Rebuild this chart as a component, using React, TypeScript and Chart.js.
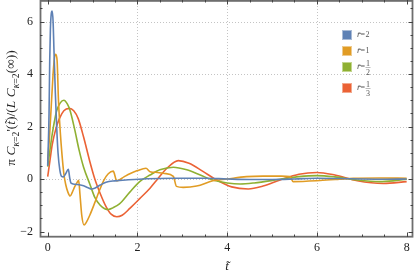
import React, { useEffect, useRef } from 'react';
import { Chart, registerables } from 'chart.js';
Chart.register(...registerables);

// ---- data ----
const xTicks = [0, 2, 4, 6, 8];
const yTicks = [-2, 0, 2, 4, 6];
const xGrid = [2, 4, 6];
const yGrid = [0, 2, 4, 6];
const seriesNames = ['2', '1', '1/2', '1/3'];
const seriesColors = ['#5E81B5', '#E19C24', '#8FB032', '#EB6235'];
const legendBorders = ['#a9bbd6', '#eecb8f', '#c3d68e', '#f3a98e'];

const tBlue = [0, 0.03, 0.045, 0.06, 0.08, 0.1, 0.12, 0.14, 0.17, 0.2, 0.23, 0.27, 0.31, 0.35, 0.4, 0.46, 0.49, 0.52, 0.6, 0.7, 0.8, 0.9, 0.98, 1.06, 1.17, 1.3, 1.5, 1.8, 2.2, 2.8, 3.5, 4, 4.5, 5, 5.5, 6, 6.5, 7, 7.5, 8];
const yBlue = [0.5, 2.5, 4.5, 5.7, 6.3, 6.4, 6.0, 4.9, 3.3, 2.0, 1.0, 0.35, 0.1, 0.08, 0.2, 0.37, 0.05, -0.16, -0.2, -0.22, -0.26, -0.33, -0.38, -0.34, -0.23, -0.12, -0.07, -0.03, 0.01, 0.03, 0.03, 0.0, -0.02, -0.02, 0.0, 0.03, 0.02, 0.0, -0.01, 0.0];

const tOrange = [0, 0.04, 0.08, 0.12, 0.15, 0.18, 0.21, 0.24, 0.28, 0.32, 0.36, 0.4, 0.45, 0.5, 0.55, 0.6, 0.66, 0.69, 0.72, 0.76, 0.81, 0.86, 0.94, 1.05, 1.15, 1.25, 1.35, 1.46, 1.54, 1.7, 1.83, 2.0, 2.19, 2.28, 2.45, 2.6, 2.8, 2.87, 3.02, 3.32, 3.68, 4.0, 4.43, 4.8, 5.2, 5.4, 5.47, 6.07, 6.5, 6.81, 7.4, 8];
const yOrange = [0.7, 1.6, 2.8, 4.0, 4.6, 4.75, 4.5, 3.0, 1.8, 0.9, 0.2, -0.2, -0.5, -0.65, -0.5, -0.3, -0.12, -0.05, -0.6, -1.4, -1.75, -1.65, -1.37, -0.9, -0.45, -0.05, 0.2, 0.3, -0.07, 0.08, 0.2, 0.32, 0.41, 0.28, 0.25, 0.21, 0.1, -0.28, -0.32, -0.27, -0.07, 0.0, 0.09, 0.11, 0.11, 0.09, -0.1, -0.06, -0.01, 0.03, 0.04, 0.03];

const tGreen = [0, 0.05, 0.1, 0.15, 0.2, 0.28, 0.36, 0.44, 0.5, 0.6, 0.7, 0.8, 0.94, 1.05, 1.17, 1.27, 1.35, 1.45, 1.6, 1.83, 2.05, 2.28, 2.5, 2.8, 3.1, 3.4, 3.68, 4.0, 4.29, 4.6, 5.18, 5.6, 6.0, 6.4, 6.9, 7.4, 7.7, 8];
const yGreen = [0.47, 1.1, 1.7, 2.2, 2.6, 2.9, 3.0, 2.85, 2.6, 1.9, 1.1, 0.45, -0.2, -0.7, -1.0, -1.13, -1.16, -1.1, -0.95, -0.5, -0.1, 0.15, 0.35, 0.45, 0.35, 0.15, -0.04, -0.15, -0.19, -0.15, -0.01, 0.09, 0.13, 0.08, -0.04, -0.1, -0.07, -0.01];

const tRed = [0, 0.05, 0.1, 0.18, 0.26, 0.36, 0.48, 0.58, 0.68, 0.8, 0.94, 1.05, 1.17, 1.3, 1.42, 1.54, 1.66, 1.83, 2.05, 2.28, 2.45, 2.65, 2.91, 3.15, 3.45, 3.77, 4.1, 4.47, 4.8, 5.18, 5.6, 6.0, 6.4, 6.9, 7.48, 8];
const yRed = [0.09, 0.7, 1.3, 1.9, 2.3, 2.6, 2.69, 2.6, 2.3, 1.6, 0.66, 0.0, -0.55, -1.05, -1.35, -1.44, -1.38, -1.12, -0.75, -0.35, 0.0, 0.4, 0.7, 0.6, 0.3, -0.04, -0.3, -0.38, -0.27, -0.04, 0.18, 0.25, 0.15, -0.07, -0.17, -0.1];

const seriesT = [tBlue, tOrange, tGreen, tRed];
const seriesY = [yBlue, yOrange, yGreen, yRed];

const SERIF = '"Liberation Serif", "DejaVu Serif", serif';

type Piece = { t: string; it?: boolean; sub?: boolean };
const yTitle: Piece[] = [
  { t: 'π ' }, { t: 'C', it: true }, { t: 'κ', it: true, sub: true }, { t: '=2', sub: true },
  { t: "'(" }, { t: 't\u0303', it: true }, { t: ')/(' }, { t: 'L', it: true }, { t: ' ' },
  { t: 'C', it: true }, { t: 'κ', it: true, sub: true }, { t: '=2', sub: true }, { t: '(∞))' },
];

function fontFor(p: Piece, fs: number) {
  const size = p.sub ? fs * 0.72 : fs;
  return `${p.it ? 'italic ' : ''}${size}px ${SERIF}`;
}

const framePlugin = {
  id: 'mmaFrame',
  beforeDatasetsDraw(chart: any) {
    const { ctx, chartArea: a, scales } = chart;
    const x = scales.x, y = scales.y;
    ctx.save();
    ctx.strokeStyle = '#c4c4c4';
    ctx.lineWidth = 1;
    ctx.setLineDash([1, 2]);
    xGrid.forEach((v) => {
      const px = Math.round(x.getPixelForValue(v)) + 0.5;
      ctx.beginPath(); ctx.moveTo(px, a.top); ctx.lineTo(px, a.bottom); ctx.stroke();
    });
    yGrid.forEach((v) => {
      const py = Math.round(y.getPixelForValue(v)) + 0.5;
      ctx.beginPath(); ctx.moveTo(a.left, py); ctx.lineTo(a.right, py); ctx.stroke();
    });
    ctx.restore();
  },
  afterDatasetsDraw(chart: any) {
    const { ctx, chartArea: a, scales } = chart;
    const x = scales.x, y = scales.y;
    ctx.save();
    ctx.setLineDash([]);
    // frame
    ctx.strokeStyle = '#6e6e6e';
    ctx.lineWidth = 1.8;
    ctx.strokeRect(a.left + 0.5, a.top + 0.9, a.right - a.left - 1, a.bottom - a.top - 1.2);
    // ticks
    ctx.lineWidth = 1;
    ctx.strokeStyle = '#444';
    for (let v = 0; v <= 8.001; v += 0.5) {
      const major = Math.abs(v - Math.round(v / 2) * 2) < 1e-6;
      const len = major ? 4.5 : 2.5;
      const px = Math.round(x.getPixelForValue(v)) + 0.5;
      ctx.beginPath(); ctx.moveTo(px, a.bottom); ctx.lineTo(px, a.bottom - len); ctx.stroke();
      ctx.beginPath(); ctx.moveTo(px, a.top); ctx.lineTo(px, a.top + len); ctx.stroke();
    }
    for (let v = -2; v <= 6.501; v += 0.5) {
      const major = Math.abs(v - Math.round(v / 2) * 2) < 1e-6;
      const len = major ? 4.5 : 2.5;
      const py = Math.round(y.getPixelForValue(v)) + 0.5;
      ctx.beginPath(); ctx.moveTo(a.left, py); ctx.lineTo(a.left + len, py); ctx.stroke();
      ctx.beginPath(); ctx.moveTo(a.right, py); ctx.lineTo(a.right - len, py); ctx.stroke();
    }
    // tick labels
    ctx.fillStyle = '#222';
    ctx.font = `12px ${SERIF}`;
    ctx.textAlign = 'center';
    ctx.textBaseline = 'middle';
    xTicks.forEach((v) => ctx.fillText(String(v), x.getPixelForValue(v), a.bottom + 10.5));
    ctx.textAlign = 'right';
    yTicks.forEach((v) => ctx.fillText(v < 0 ? '−' + Math.abs(v) : String(v), a.left - 7, y.getPixelForValue(v)));
    // x title
    ctx.textAlign = 'center';
    ctx.font = `italic 13px ${SERIF}`;
    ctx.fillText('t\u0303', x.getPixelForValue(4), 267);
    // y title
    const fs = 13.5;
    let w = 0;
    yTitle.forEach((p) => { ctx.font = fontFor(p, fs); w += ctx.measureText(p.t).width; });
    ctx.save();
    ctx.translate(15, 108);
    ctx.rotate(-Math.PI / 2);
    ctx.textAlign = 'left';
    ctx.textBaseline = 'alphabetic';
    let cx = -w / 2;
    yTitle.forEach((p) => {
      ctx.font = fontFor(p, fs);
      ctx.fillText(p.t, cx, p.sub ? fs * 0.28 : 0);
      cx += ctx.measureText(p.t).width;
    });
    ctx.restore();
    // legend
    const ly = [35, 51, 67, 88];
    seriesNames.forEach((name, i) => {
      const cy = ly[i];
      ctx.fillStyle = seriesColors[i];
      ctx.fillRect(343, cy - 4, 8, 8);
      ctx.strokeStyle = legendBorders[i];
      ctx.lineWidth = 1;
      ctx.strokeRect(342.5, cy - 4.5, 9, 9);
      ctx.fillStyle = '#555';
      ctx.textAlign = 'left';
      ctx.textBaseline = 'middle';
      ctx.font = `italic 9px ${SERIF}`;
      const pre = 'r\u0303';
      ctx.fillText(pre, 357, cy);
      let tx = 357 + ctx.measureText(pre).width;
      ctx.font = `8px ${SERIF}`;
      ctx.fillText('=', tx, cy);
      tx += ctx.measureText('=').width + 0.5;
      if (name.includes('/')) {
        const [n, d] = name.split('/');
        ctx.font = `8px ${SERIF}`;
        ctx.textAlign = 'center';
        const fw = ctx.measureText('1').width + 1;
        ctx.fillText(n, tx + fw / 2, cy - 3.5);
        ctx.fillText(d, tx + fw / 2, cy + 5.5);
        ctx.strokeStyle = '#777';
        ctx.lineWidth = 0.5;
        ctx.beginPath(); ctx.moveTo(tx, cy + 0.5); ctx.lineTo(tx + fw, cy + 0.5); ctx.stroke();
      } else {
        ctx.font = `8px ${SERIF}`;
        ctx.fillText(name, tx, cy);
      }
    });
    ctx.restore();
  },
};

export default function App() {
  const ref = useRef<HTMLCanvasElement | null>(null);
  useEffect(() => {
    document.body.style.margin = '0';
    const canvas = ref.current;
    if (!canvas) return;
    const chart = new Chart(canvas, {
      type: 'line',
      data: {
        datasets: seriesNames.map((name, i) => ({
          label: name,
          data: seriesT[i].map((t, j) => ({ x: t, y: seriesY[i][j] })),
          borderColor: seriesColors[i],
          backgroundColor: seriesColors[i],
          borderWidth: 1.6,
          pointRadius: 0,
          fill: false,
          cubicInterpolationMode: 'monotone' as const,
        })),
      },
      options: {
        responsive: false,
        animation: false,
        devicePixelRatio: 1,
        layout: { padding: { left: 40, right: 2, top: 0, bottom: 40 } },
        plugins: { legend: { display: false }, tooltip: { enabled: false } },
        scales: {
          x: {
            type: 'linear',
            min: (40 - 47.7) / 44.87,
            max: (413 - 47.7) / 44.87,
            display: false,
          },
          y: {
            type: 'linear',
            min: (179 - 237) / 26.25,
            max: 179 / 26.25,
            display: false,
          },
        },
      },
      plugins: [framePlugin],
    } as any);
    return () => chart.destroy();
  }, []);
  return <canvas ref={ref} width={415} height={277} style={{ display: 'block' }} />;
}
